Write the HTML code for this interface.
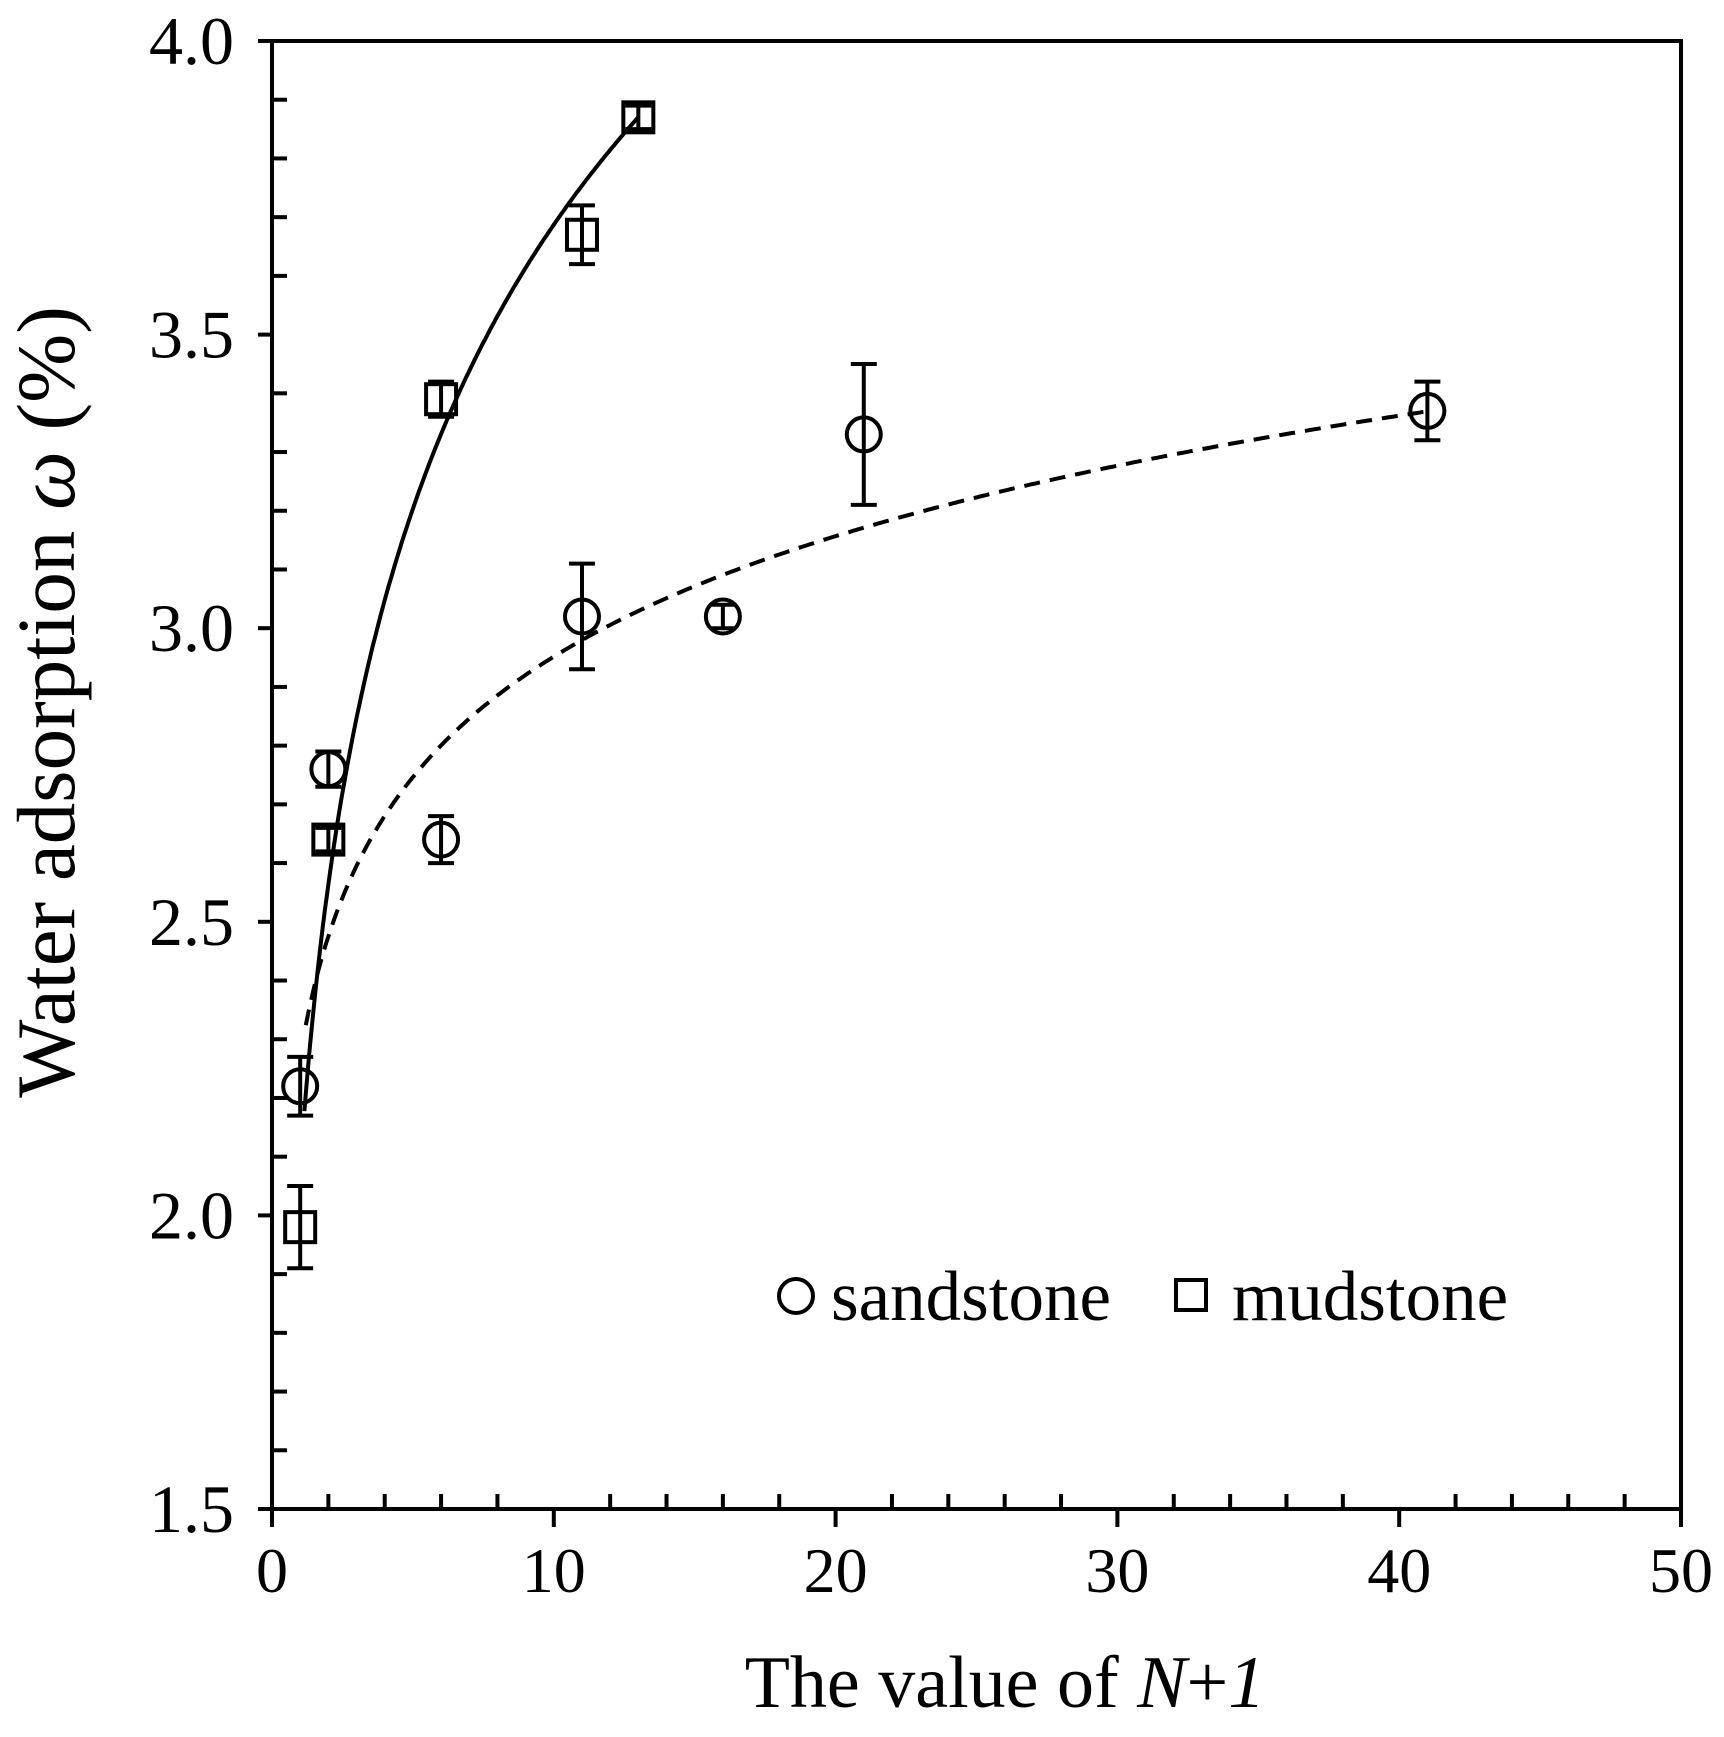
<!DOCTYPE html>
<html><head><meta charset="utf-8"><style>
html,body{margin:0;padding:0;background:#fff;}
svg text{font-family:"Liberation Serif",serif;fill:#000;}
</style></head><body>
<svg id="s" width="1724" height="1732" xmlns="http://www.w3.org/2000/svg"></svg>
<script>
const X0=272,X1=1681,Y0=1509,Y1=41;
const sx=v=>X0+(X1-X0)*v/50, sy=v=>Y0-(Y0-Y1)*(v-1.5)/2.5;
let h='';
h+=`<rect x="${X0}" y="${Y1}" width="${X1-X0}" height="${Y0-Y1}" fill="none" stroke="#000" stroke-width="4"/>`;
for(let i=0;i<=25;i++){const y=sy(1.5+i*0.1);
 if(i%5==0){h+=`<line x1="${X0-14}" y1="${y}" x2="${X0}" y2="${y}" stroke="#000" stroke-width="4"/>`;
 h+=`<text x="234" y="${y+23}" font-size="68" text-anchor="end">${(1.5+i*0.1).toFixed(1)}</text>`;}
 else h+=`<line x1="${X0}" y1="${y}" x2="${X0+15}" y2="${y}" stroke="#000" stroke-width="4"/>`;}
for(let v=0;v<=50;v+=2){const x=sx(v);
 if(v%10==0){h+=`<line x1="${x}" y1="${Y0}" x2="${x}" y2="${Y0+18}" stroke="#000" stroke-width="4"/>`;
 h+=`<text x="${x}" y="1592" font-size="64" text-anchor="middle">${v}</text>`;}
 else h+=`<line x1="${x}" y1="${Y0}" x2="${x}" y2="${Y0-15}" stroke="#000" stroke-width="4"/>`;}
let p='';for(let x=1.15;x<=13.05;x+=0.05){p+=(p?'L':'M')+sx(x).toFixed(1)+','+sy(2.08+0.698*Math.log(x)).toFixed(1);}
h+=`<path d="${p}" fill="none" stroke="#000" stroke-width="4"/>`;
p='';for(let x=1.2;x<=41;x+=0.1){p+=(p?'L':'M')+sx(x).toFixed(1)+','+sy(2.27+0.296*Math.log(x)).toFixed(1);}
h+=`<path d="${p}" fill="none" stroke="#000" stroke-width="4" stroke-dasharray="16,10"/>`;
const eb=(x,y,e)=>{const X=sx(x);return `<line x1="${X}" y1="${sy(y-e)}" x2="${X}" y2="${sy(y+e)}" stroke="#000" stroke-width="4"/><line x1="${X-13}" y1="${sy(y-e)}" x2="${X+13}" y2="${sy(y-e)}" stroke="#000" stroke-width="4"/><line x1="${X-13}" y1="${sy(y+e)}" x2="${X+13}" y2="${sy(y+e)}" stroke="#000" stroke-width="4"/>`;};
const sand=[[1,2.22,.05],[2,2.76,.03],[6,2.64,.04],[11,3.02,.09],[16,3.02,.02],[21,3.33,.12],[41,3.37,.05]];
const mud=[[1,1.98,.07],[2,2.64,.02],[6,3.39,.03],[11,3.67,.05],[13,3.87,.02]];
sand.forEach(([x,y,e])=>{h+=eb(x,y,e)+`<circle cx="${sx(x)}" cy="${sy(y)}" r="17" fill="none" stroke="#000" stroke-width="4"/>`;});
mud.forEach(([x,y,e])=>{h+=eb(x,y,e)+`<rect x="${sx(x)-15}" y="${sy(y)-15}" width="30" height="30" fill="none" stroke="#000" stroke-width="4"/>`;});
h+=`<circle cx="796" cy="1296" r="17" fill="none" stroke="#000" stroke-width="4"/><text x="831" y="1320" font-size="71">sandstone</text>`;
h+=`<rect x="1176" y="1280" width="30" height="30" fill="none" stroke="#000" stroke-width="4"/><text x="1232" y="1320" font-size="71">mudstone</text>`;
h+=`<text x="1005" y="1707" font-size="74" text-anchor="middle">The value of <tspan font-style="italic">N</tspan>+<tspan font-style="italic">1</tspan></text>`;
h+=`<text transform="translate(74,702) rotate(-90)" font-size="83" text-anchor="middle">Water adsorption <tspan font-style="italic">ω</tspan> (%)</text>`;
document.getElementById('s').innerHTML=h;
</script>
</body></html>
